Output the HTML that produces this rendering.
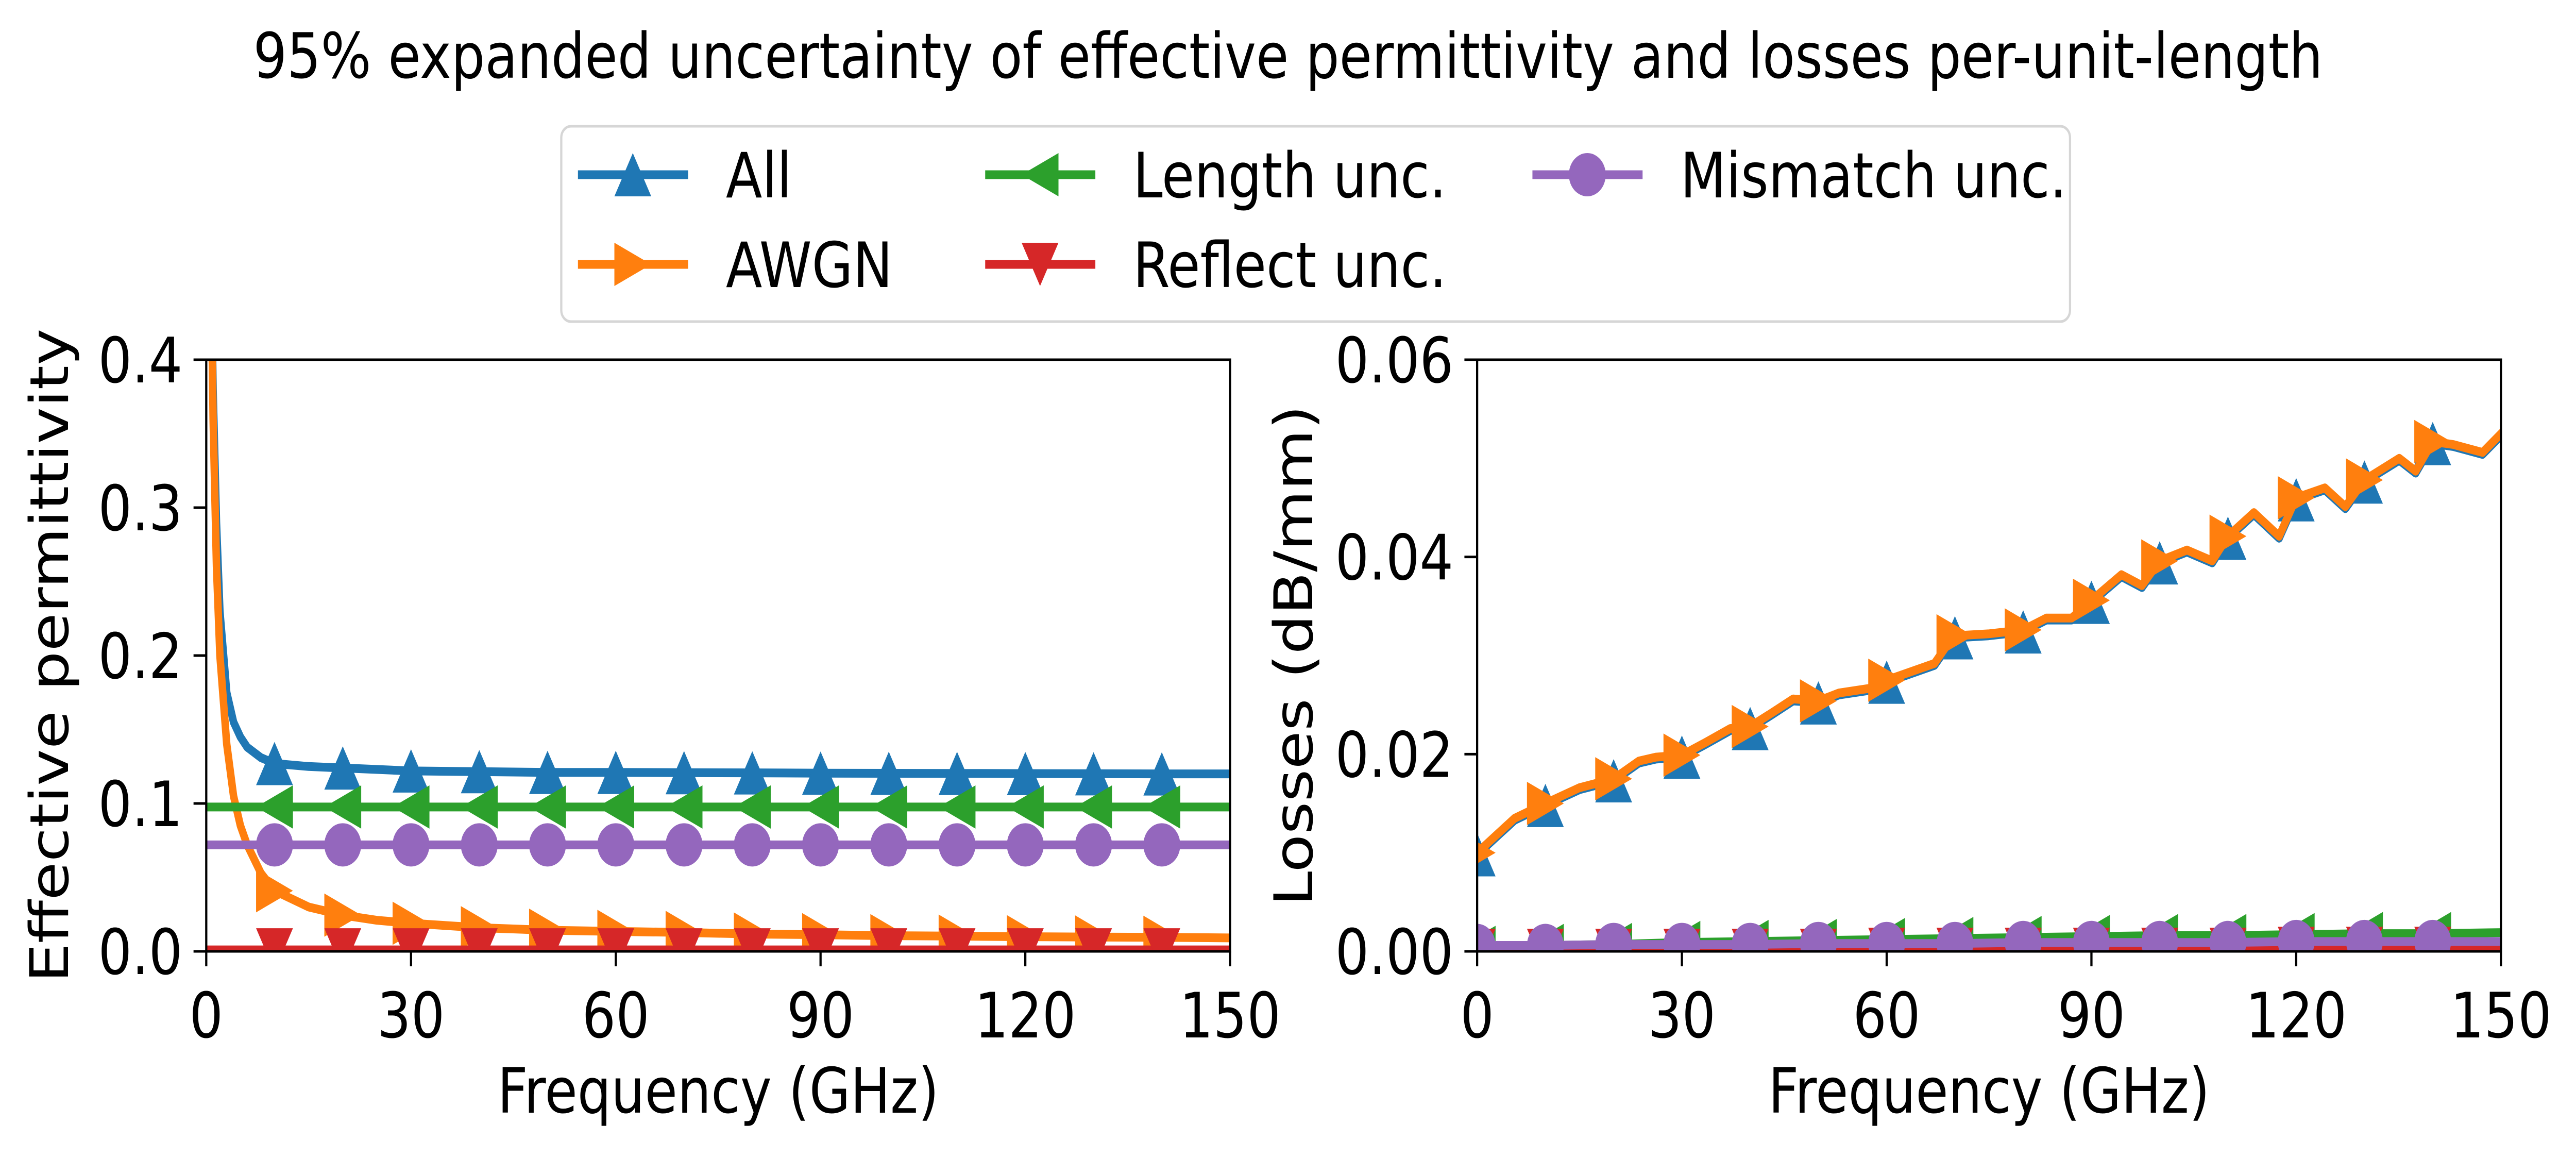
<!DOCTYPE html>
<html><head><meta charset="utf-8"><style>
html,body{margin:0;padding:0;background:#fff;overflow:hidden;width:100%;height:100%;}
svg{display:block;width:100vw;height:100vh;font-family:"DejaVu Sans","Liberation Sans",sans-serif;}
</style></head><body>
<svg id="fig" viewBox="0 0 5870 2245" preserveAspectRatio="none" xmlns="http://www.w3.org/2000/svg">
<rect width="5870" height="2245" fill="#fff"/>
<text x="2935" y="151" font-size="121" text-anchor="middle">95% expanded uncertainty of effective permittivity and losses per-unit-length</text>
<defs>
<clipPath id="clipL"><rect x="470" y="698" width="2333" height="1148"/></clipPath>
<clipPath id="clipR"><rect x="3366" y="698" width="2333" height="1148"/></clipPath>
</defs>
<g id="left"></g>
<g id="right"></g>
<g id="legend"></g>
</svg>
<script>
// ---- data ----
const seriesNames = ["All","AWGN","Length unc.","Reflect unc.","Mismatch unc."];
const seriesColors = ["#1f77b4","#ff7f0e","#2ca02c","#d62728","#9467bd"];
const seriesMarkers = ["up","right","left","down","circle"];
const xTicks = [0,30,60,90,120,150];
const xTickLabels = ["0","30","60","90","120","150"];
const yTicksLeft = [0,0.1,0.2,0.3,0.4];
const yTickLabelsLeft = ["0.0","0.1","0.2","0.3","0.4"];
const yTicksRight = [0,0.02,0.04,0.06];
const yTickLabelsRight = ["0.00","0.02","0.04","0.06"];
const markerFreqs = [0,10,20,30,40,50,60,70,80,90,100,110,120,130,140];

const leftFreq = [0.3,0.6,1,1.5,2,3,4,5,6,8,10,15,20,25,30,40,50,60,70,80,90,100,110,120,130,140,150];
const leftAll = [1.0,0.5,0.38,0.29,0.23,0.175,0.155,0.145,0.138,0.131,0.127,0.125,0.124,0.123,0.122,0.1215,0.121,0.121,0.1208,0.1207,0.1205,0.1204,0.1203,0.1202,0.1201,0.12,0.12];
const leftAWGN = [1.0,0.5,0.36,0.26,0.2,0.14,0.105,0.085,0.072,0.053,0.041,0.03,0.0245,0.021,0.019,0.016,0.0143,0.0135,0.0128,0.0117,0.0113,0.0106,0.0103,0.0099,0.0097,0.0095,0.0091];
const leftLength = [0.0976,0.0976,0.0976,0.0976,0.0976,0.0976,0.0976,0.0976,0.0976,0.0976,0.0976,0.0976,0.0976,0.0976,0.0976,0.0976,0.0976,0.0976,0.0976,0.0976,0.0976,0.0976,0.0976,0.0976,0.0976,0.0976,0.0976];
const leftReflect = [0.001,0.001,0.001,0.001,0.001,0.001,0.001,0.001,0.001,0.001,0.001,0.001,0.001,0.001,0.001,0.001,0.001,0.001,0.001,0.001,0.001,0.001,0.001,0.001,0.001,0.001,0.001];
const leftMismatch = [0.072,0.072,0.072,0.072,0.072,0.072,0.072,0.072,0.072,0.072,0.072,0.072,0.072,0.072,0.072,0.072,0.072,0.072,0.072,0.072,0.072,0.072,0.072,0.072,0.072,0.072,0.072];

const rightFreq = [0,5.5,10,15,20,23.7,26.2,30,33.5,37.1,40,43.2,46.3,50,53,57.8,60,67,69.4,70,74.9,80,83.4,87.1,90,94.4,97.4,100,104,107.7,110,113.8,117.5,120,124.2,127.2,130,135.1,137.5,140,143,147.3,150];
const rightAWGN = [0.0100,0.0135,0.0150,0.0166,0.0175,0.0193,0.0197,0.0199,0.0212,0.0226,0.0228,0.0242,0.0256,0.0254,0.0262,0.0267,0.0275,0.0292,0.0316,0.0320,0.0322,0.0326,0.0338,0.0338,0.0356,0.0382,0.0371,0.0396,0.0407,0.0396,0.0421,0.0445,0.0421,0.0460,0.0470,0.0451,0.0478,0.0500,0.0487,0.0517,0.0514,0.0506,0.0525];
const rightAll = [0.0098,0.0133,0.0148,0.0164,0.0173,0.0191,0.0195,0.0197,0.0210,0.0224,0.0226,0.0240,0.0254,0.0252,0.0260,0.0265,0.0273,0.0290,0.0314,0.0318,0.0320,0.0324,0.0336,0.0336,0.0354,0.0380,0.0369,0.0394,0.0405,0.0394,0.0419,0.0443,0.0419,0.0458,0.0468,0.0449,0.0476,0.0498,0.0485,0.0515,0.0512,0.0504,0.0523];
const rightLenF = [0,10,20,30,40,50,60,70,80,90,100,110,120,130,140,150];
const rightLength = [0.0004,0.0006,0.0007,0.0009,0.0010,0.0011,0.0012,0.0013,0.0014,0.0015,0.0016,0.0016,0.0017,0.0018,0.0018,0.0019];
const rightReflect = [0.0001,0.0001,0.0001,0.0001,0.0001,0.0001,0.0002,0.0002,0.0002,0.0002,0.0002,0.0002,0.0003,0.0003,0.0003,0.0003];
const rightMismatch = [0.0006,0.0006,0.0007,0.0007,0.0007,0.0008,0.0008,0.0008,0.0009,0.0009,0.0009,0.0009,0.0010,0.0010,0.0010,0.0010];

// ---- drawing ----
const NS = "http://www.w3.org/2000/svg";
function mk(tag, attrs, parent){
  const e = document.createElementNS(NS, tag);
  for (const k in attrs) e.setAttribute(k, attrs[k]);
  parent.appendChild(e);
  return e;
}
const MS = 84, LW = 17;
function markerPath(type, cx, cy){
  const h = MS/2;
  if (type==="up") return `M${cx},${cy-h}L${cx-h},${cy+h}L${cx+h},${cy+h}Z`;
  if (type==="down") return `M${cx},${cy+h}L${cx-h},${cy-h}L${cx+h},${cy-h}Z`;
  if (type==="left") return `M${cx-h},${cy}L${cx+h},${cy-h}L${cx+h},${cy+h}Z`;
  if (type==="right") return `M${cx+h},${cy}L${cx-h},${cy-h}L${cx-h},${cy+h}Z`;
  return "";
}
function drawMarker(g, type, cx, cy, color){
  let m;
  if (type==="circle") m = mk("circle",{cx:cx,cy:cy,r:MS/2,fill:color},g);
  else m = mk("path",{d:markerPath(type,cx,cy),fill:color},g);
  return m;
}

function drawAxes(gid, x0, clipId, ymax, yTicks, yLabels, ylabel, ylabelX, series){
  const g = document.getElementById(gid);
  const W = 2333, y0 = 698, H = 1148;
  const sx = f => x0 + f/150*W;
  const sy = v => y0 + H - v/ymax*H;
  const plot = mk("g",{"clip-path":`url(#${clipId})`},g);
  
  
  series.forEach((s,i)=>{
    const sg = mk("g",{},plot);
    
    
    const pts = s.f.map((f,j)=>sx(f).toFixed(1)+","+sy(s.v[j]).toFixed(1)).join(" ");
    const ln = mk("polyline",{points:pts,fill:"none",stroke:seriesColors[i],"stroke-width":LW,"stroke-linejoin":"round","stroke-linecap":"square"},sg);
    
    
    s.f.forEach((f,j)=>{
      if (markerFreqs.indexOf(f) < 0) return;
      const m = drawMarker(sg, seriesMarkers[i], sx(f), sy(s.v[j]), seriesColors[i]);
      
      
    });
  });
  const frame = mk("rect",{x:x0,y:y0,width:W,height:H,fill:"none",stroke:"#000","stroke-width":5},g);
  
  
  xTicks.forEach((t,i)=>{
    const tk = mk("line",{x1:sx(t),x2:sx(t),y1:y0+H,y2:y0+H+29,stroke:"#000","stroke-width":5},g);
    
    
    const tl = mk("text",{x:sx(t),y:2013,"font-size":121,"text-anchor":"middle"},g);
    tl.textContent = xTickLabels[i];
    
    
  });
  yTicks.forEach((t,i)=>{
    const tk = mk("line",{x1:x0-29,x2:x0,y1:sy(t),y2:sy(t),stroke:"#000","stroke-width":5},g);
    
    
    const tl = mk("text",{x:x0-54,y:sy(t)+44,"font-size":121,"text-anchor":"end"},g);
    tl.textContent = yLabels[i];
    
    
  });
  const xl = mk("text",{x:x0+W/2,y:2159,"font-size":121,"text-anchor":"middle"},g);
  xl.textContent = "Frequency (GHz)";
  
  
  const yl = mk("text",{x:ylabelX,y:y0+H/2,"font-size":121,"text-anchor":"middle",transform:`rotate(-90 ${ylabelX} ${y0+H/2})`},g);
  yl.textContent = ylabel;
  
  
}

drawAxes("left",470,"clipL",0.4,yTicksLeft,yTickLabelsLeft,"Effective permittivity",155,[
  {f:leftFreq,v:leftAll},{f:leftFreq,v:leftAWGN},{f:leftFreq,v:leftLength},{f:leftFreq,v:leftReflect},{f:leftFreq,v:leftMismatch}]);
drawAxes("right",3366,"clipR",0.06,yTicksRight,yTickLabelsRight,"Losses (dB/mm)",2990,[
  {f:rightFreq,v:rightAll},{f:rightFreq,v:rightAWGN},{f:rightLenF,v:rightLength},{f:rightLenF,v:rightReflect},{f:rightLenF,v:rightMismatch}]);

// legend
(function(){
  const g = document.getElementById("legend");
  const box = mk("rect",{x:1279,y:245,width:3438,height:379,rx:22,fill:"#fff",stroke:"#d6d6d6","stroke-width":5},g);
  
  
  const cols = [1317,2245,3492];
  const rows = [339,513];
  seriesNames.forEach((n,i)=>{
    const c = Math.floor(i/2), r = i%2;
    const eg = mk("g",{},g);
    
    
    const lx = cols[c], ly = rows[r];
    mk("line",{x1:lx,x2:lx+251,y1:ly,y2:ly,stroke:seriesColors[i],"stroke-width":LW},eg);
    drawMarker(eg, seriesMarkers[i], lx+125, ly, seriesColors[i]);
    const t = mk("text",{x:lx+337,y:ly+44,"font-size":121},eg);
    t.textContent = n;
  });
})();
</script>
</body></html>
